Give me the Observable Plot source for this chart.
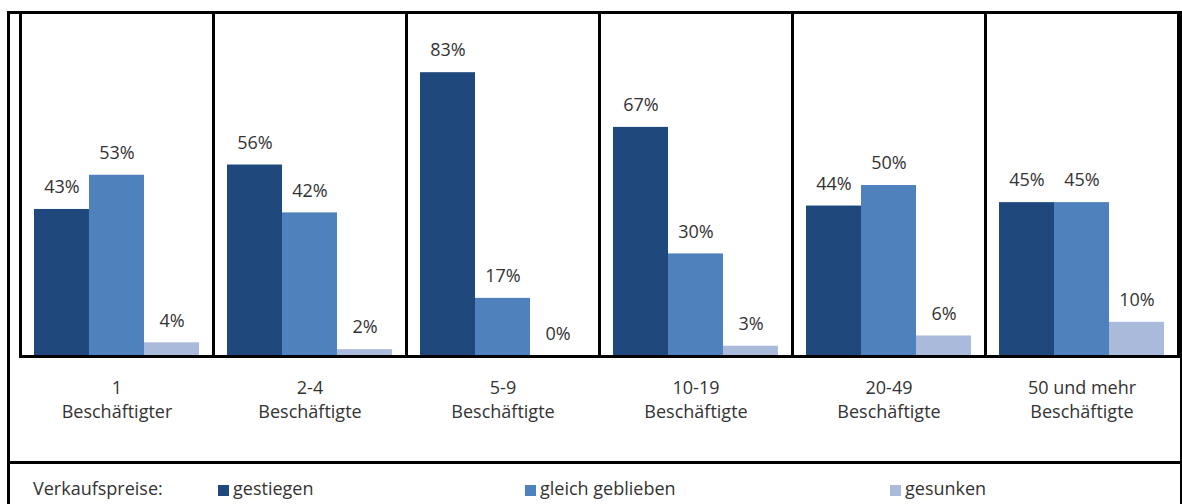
<!DOCTYPE html>
<html>
<head>
<meta charset="utf-8">
<script src="https://cdn.jsdelivr.net/npm/d3@7"></script>
<script src="https://cdn.jsdelivr.net/npm/@observablehq/plot@0.6"></script>
<style>
  html, body { margin: 0; padding: 0; background: #fff; }
  body { width: 1182px; height: 504px; overflow: hidden; position: relative; font-family: "Open Sans", sans-serif; }
  #chart { position: absolute; left: 0; top: 0; }
  #outer { position: absolute; left: 7px; top: 11px; width: 1170px; height: 520px; border-left: 3px solid #000; border-top: 3px solid #000; border-right: 2px solid #000; pointer-events: none; }
  #legend { position: absolute; left: 7px; top: 461px; width: 1175px; height: 60px; border-top: 3px solid #000; font-size: 18px; color: #333; }
  .li { position: absolute; top: 12px; white-space: nowrap; }
  .sw { display: inline-block; width: 11px; height: 11px; margin-right: 4px; vertical-align: -1px; }
</style>
</head>
<body>
<div id="chart"></div>
<div id="outer"></div>
<div id="legend"></div>
<script>
const groups = ["1\nBeschäftigter", "2-4\nBeschäftigte", "5-9\nBeschäftigte", "10-19\nBeschäftigte", "20-49\nBeschäftigte", "50 und mehr\nBeschäftigte"];
const series = ["gestiegen", "gleich geblieben", "gesunken"];
const gestiegen = [43, 56, 83, 67, 44, 45];
const gleichGeblieben = [53, 42, 17, 30, 50, 45];
const gesunken = [4, 2, 0, 3, 6, 10];
const colors = ["#1f497d", "#4f81bd", "#a9badb"];
const legendTitle = "Verkaufspreise:";

const values = [gestiegen, gleichGeblieben, gesunken];
const data = [];
groups.forEach((g, i) => series.forEach((s, j) => data.push({group: g, series: s, value: values[j][i]})));

const plot = Plot.plot({
  width: 1182,
  height: 463,
  marginTop: 12,
  marginBottom: 107,
  marginLeft: 18,
  marginRight: 2,
  style: {fontFamily: "Open Sans, sans-serif", fontSize: "18px", color: "#333", background: "transparent"},
  fx: {domain: groups, padding: 0, axis: null},
  x: {domain: series, paddingInner: 0, paddingOuter: 0.24, axis: null},
  y: {domain: [0, 100.6], axis: null},
  color: {domain: series, range: colors},
  marks: [
    Plot.barY(data, {fx: "group", x: "series", y: "value", fill: "series"}),
    Plot.text(data, {fx: "group", x: "series", y: "value", text: d => d.value + "%", dy: -22, fill: "#333", fontSize: 18}),
    Plot.ruleY([0], {stroke: "#000", strokeWidth: 3}),
    Plot.frame({stroke: "#000", strokeWidth: 3}),
    Plot.text(groups, {fx: d => d, text: d => d, frameAnchor: "bottom", dy: 42, lineAnchor: "middle", lineHeight: 1.3, fill: "#333", fontSize: 18})
  ]
});
document.getElementById("chart").appendChild(plot);

const legend = document.getElementById("legend");
const lx = [26, 211, 518, 883];
const t = document.createElement("div");
t.className = "li"; t.style.left = lx[0] + "px"; t.textContent = legendTitle;
legend.appendChild(t);
series.forEach((s, j) => {
  const d = document.createElement("div");
  d.className = "li"; d.style.left = lx[j + 1] + "px";
  const sw = document.createElement("span");
  sw.className = "sw"; sw.style.background = plot.scale("color").apply(s);
  d.appendChild(sw);
  d.appendChild(document.createTextNode(s));
  legend.appendChild(d);
});
</script>
</body>
</html>
